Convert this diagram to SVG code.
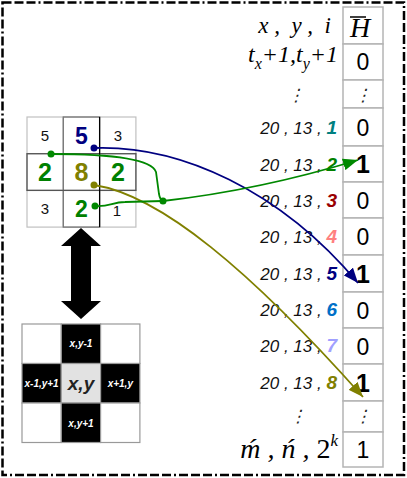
<svg xmlns="http://www.w3.org/2000/svg" width="407" height="478" viewBox="0 0 407 478">
<style>
.serif{font-family:"Liberation Serif","Times New Roman",serif;font-style:italic;fill:#000}
.lbl{font-family:"Liberation Sans",Arial,sans-serif;font-style:italic;font-size:17px;fill:#111}
.num{font-weight:bold;font-size:19px}
.val{font-family:"Liberation Sans",Arial,sans-serif;font-size:23px;text-anchor:middle;fill:#000}
.vb{font-weight:bold;font-size:25px}
.cell{fill:#fff;stroke:#c0c0c0;stroke-width:1.2}
.tcell{fill:#fff;stroke:#b4b4b4;stroke-width:1.5}
.g{font-family:"Liberation Sans",Arial,sans-serif;text-anchor:middle}
.gs{font-size:15px;fill:#111}
.gb{font-weight:bold}
.ct{font-family:"Liberation Sans",Arial,sans-serif;font-style:italic;font-weight:bold;font-size:10px;fill:#fff;text-anchor:middle}
.dots{font-family:"DejaVu Sans",sans-serif;font-size:17px;text-anchor:middle;fill:#222}
.conn{fill:none;stroke-width:1.8}
</style>
<defs>
<marker id="ahN" markerUnits="userSpaceOnUse" markerWidth="16" markerHeight="12" refX="15" refY="6" orient="auto"><path d="M0,0 L15,6 L0,12 z" fill="#000080"/></marker>
<marker id="ahG" markerUnits="userSpaceOnUse" markerWidth="16" markerHeight="12" refX="15" refY="6" orient="auto"><path d="M0,0 L15,6 L0,12 z" fill="#008800"/></marker>
<marker id="ahO" markerUnits="userSpaceOnUse" markerWidth="16" markerHeight="12" refX="15" refY="6" orient="auto"><path d="M0,0 L15,6 L0,12 z" fill="#808000"/></marker>
</defs>
<rect x="0" y="0" width="407" height="478" fill="#fff"/>
<rect x="2.5" y="2.5" width="401.5" height="472.5" fill="none" stroke="#000" stroke-width="2.5" stroke-dasharray="9,3,9,3,9,3,2,3"/>

<g id="table">
<rect class="tcell" x="343" y="7" width="40" height="37"/>
<rect class="tcell" x="343" y="44" width="40" height="36"/>
<rect class="tcell" x="343" y="80" width="40" height="28"/>
<rect class="tcell" x="343" y="108" width="40" height="38"/>
<rect class="tcell" x="343" y="146" width="40" height="36"/>
<rect class="tcell" x="343" y="182" width="40" height="36"/>
<rect class="tcell" x="343" y="218" width="40" height="37"/>
<rect class="tcell" x="343" y="255" width="40" height="37"/>
<rect class="tcell" x="343" y="292" width="40" height="36"/>
<rect class="tcell" x="343" y="328" width="40" height="36"/>
<rect class="tcell" x="343" y="364" width="40" height="37"/>
<rect class="tcell" x="343" y="401" width="40" height="31"/>
<rect class="tcell" x="343" y="432" width="40" height="35"/>
<text class="serif" x="360" y="37" font-size="28" text-anchor="middle">H</text>
<line x1="350" y1="17" x2="366" y2="17" stroke="#000" stroke-width="1.5"/>
<text class="val" x="363" y="70">0</text>
<text class="dots" x="363" y="101" transform="skewX(-15) translate(27,0)">⋮</text>
<text class="val" x="363" y="136">0</text>
<text class="val vb" x="363" y="173">1</text>
<text class="val" x="363" y="209">0</text>
<text class="val" x="363" y="245">0</text>
<text class="val vb" x="363" y="283">1</text>
<text class="val" x="363" y="319">0</text>
<text class="val" x="363" y="355">0</text>
<text class="val vb" x="363" y="392">1</text>
<text class="dots" x="363" y="422" transform="skewX(-15) translate(113,0)">⋮</text>
<text class="val" x="363" y="458">1</text>
</g>

<g id="labels">
<text class="serif" x="331" y="33" font-size="23" text-anchor="end" xml:space="preserve">x ,  y ,  i</text>
<text class="serif" x="338" y="62" font-size="24" text-anchor="end">t<tspan font-size="16" dy="7">x</tspan><tspan dy="-7">+1,t</tspan><tspan font-size="16" dy="7">y</tspan><tspan dy="-7">+1</tspan></text>
<text class="dots" x="296" y="101" transform="skewX(-15) translate(27,0)">⋮</text>
<text class="lbl" x="337" y="134" text-anchor="end">20 , 13 , <tspan class="num" fill="#008080">1</tspan></text>
<text class="lbl" x="337" y="171" text-anchor="end">20 , 13 , <tspan class="num" fill="#008000">2</tspan></text>
<text class="lbl" x="337" y="207" text-anchor="end">20 , 13 , <tspan class="num" fill="#990000">3</tspan></text>
<text class="lbl" x="337" y="243" text-anchor="end">20 , 13 , <tspan class="num" fill="#ff8080">4</tspan></text>
<text class="lbl" x="337" y="280" text-anchor="end">20 , 13 , <tspan class="num" fill="#000080">5</tspan></text>
<text class="lbl" x="337" y="316" text-anchor="end">20 , 13 , <tspan class="num" fill="#0070c8">6</tspan></text>
<text class="lbl" x="337" y="352" text-anchor="end">20 , 13 , <tspan class="num" fill="#a0a0ff">7</tspan></text>
<text class="lbl" x="337" y="389" text-anchor="end">20 , 13 , <tspan class="num" fill="#808000">8</tspan></text>
<text class="dots" x="298" y="422" transform="skewX(-15) translate(113,0)">⋮</text>
<text class="serif" x="338" y="458" font-size="28" text-anchor="end">ḿ , ń , <tspan font-style="normal">2</tspan><tspan font-size="17" dy="-12">k</tspan></text>
</g>

<g id="grid">
<rect class="cell" x="27" y="117" width="36.3" height="36.7"/>
<rect class="cell" x="63.3" y="117" width="36.3" height="36.7"/>
<rect class="cell" x="99.6" y="117" width="36.3" height="36.7"/>
<rect class="cell" x="27" y="153.7" width="36.3" height="36.7"/>
<rect class="cell" x="63.3" y="153.7" width="36.3" height="36.7"/>
<rect class="cell" x="99.6" y="153.7" width="36.3" height="36.7"/>
<rect class="cell" x="27" y="190.4" width="36.3" height="36.7"/>
<rect class="cell" x="63.3" y="190.4" width="36.3" height="36.7"/>
<rect class="cell" x="99.6" y="190.4" width="36.3" height="36.7"/>
<rect x="63.3" y="117" width="36.3" height="110.1" fill="none" stroke="#777" stroke-width="1.3"/>
<rect x="27" y="153.7" width="108.9" height="36.7" fill="none" stroke="#555" stroke-width="1.3"/>
<line x1="99.6" y1="117" x2="99.6" y2="227.1" stroke="#000" stroke-width="1.2"/>
<text class="g gs" x="45" y="141">5</text>
<text class="g gb" x="81.5" y="144" font-size="23" fill="#000080">5</text>
<text class="g gs" x="118" y="141">3</text>
<text class="g gb" x="45" y="181" font-size="25" fill="#008000">2</text>
<text class="g gb" x="81.5" y="181" font-size="25" fill="#808000">8</text>
<text class="g gb" x="118" y="181" font-size="25" fill="#008000">2</text>
<text class="g gs" x="45" y="214">3</text>
<text class="g gb" x="81.5" y="217" font-size="23" fill="#008000">2</text>
<text class="g gs" x="117" y="216">1</text>
</g>

<g id="double-arrow">
<path d="M81,228 L101,246 L91,246 L91,301 L101,301 L81,319 L61,301 L71,301 L71,246 L61,246 z" fill="#000"/>
</g>

<g id="neighbourhood">
<rect x="22" y="324" width="39.3" height="39.5" fill="#fff" stroke="#999" stroke-width="1.2"/>
<rect x="61.3" y="324" width="39.3" height="39.5" fill="#000" stroke="#999" stroke-width="1.2"/>
<rect x="100.6" y="324" width="39.3" height="39.5" fill="#fff" stroke="#999" stroke-width="1.2"/>
<rect x="22" y="363.5" width="39.3" height="39.5" fill="#000" stroke="#999" stroke-width="1.2"/>
<rect x="61.3" y="363.5" width="39.3" height="39.5" fill="#e2e2e2" stroke="#999" stroke-width="1.2"/>
<rect x="100.6" y="363.5" width="39.3" height="39.5" fill="#000" stroke="#999" stroke-width="1.2"/>
<rect x="22" y="403" width="39.3" height="39.5" fill="#fff" stroke="#999" stroke-width="1.2"/>
<rect x="61.3" y="403" width="39.3" height="39.5" fill="#000" stroke="#999" stroke-width="1.2"/>
<rect x="100.6" y="403" width="39.3" height="39.5" fill="#fff" stroke="#999" stroke-width="1.2"/>
<text class="ct" x="81" y="347">x,y-1</text>
<text class="ct" x="41.6" y="387">x-1,y+1</text>
<text class="ct" x="120.3" y="387">x+1,y</text>
<text class="ct" x="81" y="427">x,y+1</text>
<text x="81" y="390" font-family="Liberation Sans,Arial,sans-serif" font-style="italic" font-weight="bold" font-size="19" fill="#222" text-anchor="middle">x,y</text>
</g>

<g id="connectors">
<path class="conn" stroke="#000080" d="M94,148 C180,145 280,190 358,283" marker-end="url(#ahN)"/>
<path class="conn" stroke="#808000" d="M94,185 C160,195 250,270 363,397" marker-end="url(#ahO)"/>
<path class="conn" stroke="#008800" d="M51,154 Q150,154 156,172 L159,194 Q160,200 163,201"/>
<path class="conn" stroke="#008800" d="M95,206 C110,207 112,202 125,202 L163,201"/>
<path class="conn" stroke="#008800" d="M163,201 Q260,190 358,160" marker-end="url(#ahG)"/>
<circle cx="94" cy="148" r="3.5" fill="#000080"/>
<circle cx="94" cy="185" r="3.5" fill="#808000"/>
<circle cx="51" cy="154" r="3.5" fill="#008800"/>
<circle cx="95" cy="206" r="3.5" fill="#008800"/>
<circle cx="163" cy="201" r="3.5" fill="#008800"/>
</g>
</svg>
